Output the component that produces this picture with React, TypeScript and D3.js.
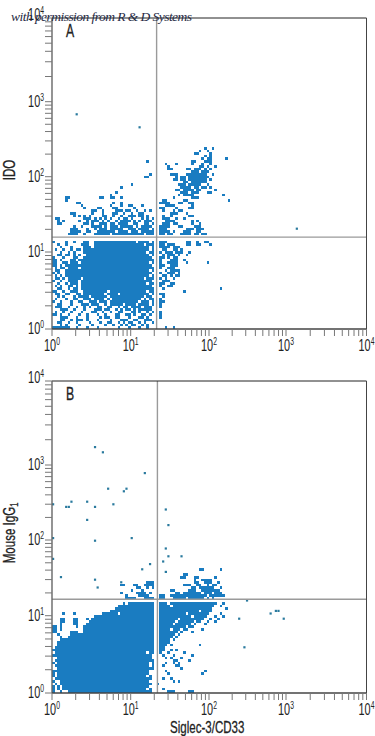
import React from "react";
import * as d3 from "d3";

// Tick labels / decades
const decades = [1, 10, 100, 1000, 10000];
const decadeExponents = ["0", "1", "2", "3", "4"];
const minorMultipliers = [2, 3, 4, 5, 6, 7, 8, 9];

// Histogram bins: 30 bins per decade. Index = row from the bottom, spec = occupied columns.
const rowsA = [
  "0-6 9 13 17 25 29 33 36 43 46",
  "3 5 10 15 20 23 26 28 30-31 34 36",
  "2-3 6 9 14 18 21-22 25 27 29-30 33 35 38",
  "3-4 7 9-11 13 17 22 26-28 31-32 35-37",
  "3-5 9 13 18 20-21 24-25 29 33-34 36 41",
  "0-1 3 6 10 13 17 20 24-25 28-29 31 34-35 37 41",
  "1 4 7 11 15-16 19 22 25-26 30-31 33 36 38 41",
  "3-5 8 12 16-18 20-21 24 26 28-29 31 33-37",
  "1-3 6 9 12 14 17-18 21-22 25 27-28 30-33 35-37 41",
  "2-3 7 11-13 15-17 20 22-26 28-31 33-36 38 41",
  "0 3 7 10-11 14-16 18-20 22-32 34-36 38 41-42",
  "1 5 8-9 12-14 16-19 21 23-33 35 37-38 41",
  "2 4 8 10-13 15-20 22-34 36-37 42",
  "1-2 5-6 9-10 12-19 21-24 26-36 38 41-42",
  "0-1 4 7-9 12-20 22-35 37-38 50",
  "2-3 6 8-9 11-38 42 64",
  "1 3 6-7 9 11-37 41 44-45",
  "2 5 7-9 11-35 37-38 41-42 45-46",
  "0 3 6-9 11-37 42-44",
  "1-2 4 6-10 12-34 36-38 41 43 46",
  "1 3 5-36 38 42-43 45 47-48",
  "0 2 5-37 41 44-46 48",
  "1-2 5-36 38 43 45-48",
  "1 3-4 6-9 11-38 41 44-46",
  "0-1 3 5-37 41-42 45-47",
  "0-1 4-5 7-9 11-36 38 41 44-47 51 59",
  "0-1 3 7-8 10-38 41 45-47 50",
  "0 4 8-9 12-37 41-42 44 46-47",
  "2-3 5-6 8 10 13-36 38 42 44-46 48 51",
  "3 6 8 12-35 37-38 41 43-45 47-49 52",
  "1 4 7 9-10 12-36 38 42-43 46-47 49",
  "3 7 12-14 16-36 38 41-44 46-48",
  "2 5 11-13 16-34 36-38 41-42 44-46 51-52 55-56 60",
  "0 5 8 12-13 16-31 33-36 38 41-43 51-52 55 58-59",
  "",
  "",
  "6-9 12 16-21 23-34 36-38 41-42 44-45 49-52 54-55 57-58",
  "7-10 13-14 17-23 25-28 30-32 34-38 41-44 46 50-52 55-56",
  "7-9 13 16 18-20 22-26 29-31 33-36 38 41-43 51-53 55-57",
  "8 11 15-18 20 22-24 26-30 32 34-36 37 41-44 48-49 54-56",
  "2-3 12-13 15 18-20 22-23 25-28 31-32 35-36 38 42-44 46-47 53 56",
  "2 4 10 13 15-17 19 21 24 26-29 31 33 35-37 43-46 53 55",
  "1-2 12-14 16 18 20 22 25 27-28 30 34 36 38 42-44 47 50",
  "8 10 12 14 19-20 23 26 29-31 33-34 36 42 45 52-53",
  "7-8 15 19 23-24 27 30 33-34 45-47 51",
  "15-16 19 24-26 28-29 32 35 37 42 46 48-49",
  "12 17-18 23-24 31 41-42 47 52-53",
  "11 22 26 29-30 34 43-46 53",
  "9-10 23 26 41-44 48-49 52-53",
  "5 42-43 50-51 67",
  "5-6 18-19 22-23 26 46 53-55",
  "22 48 50-53 65",
  "24 49-51 53-55 59-60",
  "47-48 50-53 55-56 62",
  "26 49-52 54-55 57-58 60",
  "30 48-50 52-56 59",
  "50-51 53-58",
  "46-47 49-50 52-58 60",
  "35-36 47 49-50 52-59",
  "37 45-47 51-58 61",
  "53-55 57-59",
  "44-45 51-52 54-56 58 60",
  "44 56-57 59 62",
  "43 47 53 57 60",
  "36 53-54 58-60",
  "57 59-60 66",
  "58 60",
  "54-55 60",
  "56 59",
  "58 61",
];

const rowsB = [
  "0 3 6-37 44-46 52-53",
  "0 2 4-35 37 42",
  "0 2 4-36",
  "1 3-37 40",
  "0 3-36 46 48",
  "1-37 42 45",
  "0 2-35 37",
  "0 2-36 44 57",
  "0-36 43 58",
  "2-38 49",
  "1-36 38 42 47-48",
  "0 2-36 38 43 46 48",
  "1-38 46-47 52",
  "2-37 43 45 49",
  "0-37 42 46 53",
  "1-35 37-38 41 44 50",
  "0-38 41-42 45 47",
  "1-38 41-42",
  "2-38 41-43 45 56",
  "2-38 41-44",
  "3-38 41-44 46",
  "3 6-38 41-45 47",
  "2 7-38 41-46 48",
  "0-1 7-9 12-38 41-47 49 53",
  "0-1 3 12-38 41-44 46-48 50-51 57",
  "0-1 3 9 12-38 41-50 52-53",
  "3 8-9 13-38 41-45 47-52 54 58",
  "3-4 8-9 14-38 41-46 48-53 55-56 59 62",
  "3-4 8-9 13 15-38 41-47 49-57 60 63",
  "16-38 41-52 54-58 62 65",
  "4 8 19-24 26-38 41-50 52-59 64",
  "22-38 41-55 57-60",
  "24-38 41-60 66",
  "25-38 41-44 46-61 64",
  "27 29-38 41-43 45-62 65",
  "",
  "28-31 35-38 41-42 46-50 52-57 59 61",
  "28 33-36 41-42 45-58 60-65",
  "26 32-35 37 47-48 50-56 58-60 62-64",
  "30 34 45-46 52-54 57-63",
  "32-33 36 38 53-54 56-61 64",
  "26-27 31-32 35-38 50-52 55-56 59 61-62",
  "36-38 54-55 58-60 63",
  "54 57-60",
  "49-50 54-55 62",
  "50-51",
  "43",
  "56-57 64",
];

// Isolated events outside the binned rows: [column, row]
const sparseA = [[9, 82], [33, 77], [93, 38]];
const sparseB = [
  [16, 94], [19, 92], [35, 84], [21, 78], [28, 78], [27, 77], [7, 73], [5, 71], [6, 71], [13, 73],
  [16, 71], [23, 72], [13, 66], [16, 58], [30, 59], [43, 70], [44, 64], [43, 55], [44, 52], [42, 50],
  [49, 52], [37, 49], [34, 47], [43, 46], [3, 44], [16, 43], [17, 40], [26, 42], [0, 59], [0, 51],
  [0, 72], [74, 35], [71, 28], [73, 17], [83, 30], [85, 31], [86, 31], [88, 28],
];

const xTickRange = [52, 130.7, 209, 286, 366.5];
const yTickRangeA = [329, 252, 176.7, 101.7, 18];
const yTickRangeB = [693, 615.7, 540, 465, 381];

const gateX = 22;
const gateY = 15.5;

const BLUE = "#1a7cc1";
const FONT = "'Liberation Sans',sans-serif";
const NARROW = 0.68;

const parseSpec = (spec: string): number[] =>
  spec.split(" ").filter(Boolean).flatMap((p) => {
    const [a, b] = p.split("-").map(Number);
    return b === undefined ? [a] : d3.range(a, b + 1);
  });

const binValue = (i: number) => Math.pow(10, i / 30);

function Power({ x, y, i, anchor }: { x: number; y: number; i: number; anchor: string }) {
  return (
    <text
      transform={`translate(${x},${y}) scale(${NARROW},1)`}
      textAnchor={anchor}
      fontFamily={FONT}
      fontSize={16}
      fill="#222"
    >
      10<tspan fontSize={10} dy={-6}>{decadeExponents[i]}</tspan>
    </text>
  );
}

function Panel({ rows, sparse, yRange, letter, gateXPx, gateYPx }: any) {
  const xCell = d3.scaleLog().domain([1, 10000]).range([52, 366.5]);
  const yCell = d3.scaleLog().domain([1, 10000]).range([yRange[0], yRange[0] - 312]);
  const xTick = d3.scaleLog().domain(decades).range(xTickRange);
  const yTick = d3.scaleLog().domain(decades).range(yRange);
  const top = yRange[4];
  const bottom = yRange[0];
  const minors = decades.slice(0, 4).flatMap((d) => minorMultipliers.map((m) => d * m));
  const cells = (rows as string[]).flatMap((spec, r) => parseSpec(spec).map((c) => [c, r]));
  return (
    <g>
      <g shapeRendering="crispEdges">
        {cells.map(([c, r]) => {
          const x0 = xCell(binValue(c));
          const x1 = xCell(binValue(c + 1));
          const y0 = yCell(binValue(r));
          const y1 = yCell(binValue(r + 1));
          return <rect key={`${c}-${r}`} x={x0} y={y1} width={x1 - x0} height={y0 - y1} fill={BLUE} />;
        })}
      </g>
      {(sparse as number[][]).map(([c, r]) => (
        <rect key={`s${c}-${r}`} x={xCell(binValue(c))} y={yCell(binValue(r + 1))} width={2.2} height={2.2} fill="#2a7a9e" />
      ))}
      <line x1={gateXPx} x2={gateXPx} y1={top} y2={bottom} stroke="#9a9a9a" strokeWidth={1.4} />
      <line x1={52} x2={366.5} y1={gateYPx} y2={gateYPx} stroke="#9a9a9a" strokeWidth={1.4} />
      <line x1={52} x2={366.5} y1={top} y2={top} stroke="#222" strokeWidth={1} />
      <line x1={366.5} x2={366.5} y1={top} y2={bottom} stroke="#444" strokeWidth={1} />
      <line x1={52} x2={52} y1={top} y2={bottom} stroke="#666" strokeWidth={1.4} />
      <line x1={52} x2={366.5} y1={bottom} y2={bottom} stroke="#444" strokeWidth={1.4} />
      {[...decades, ...minors].map((v) => (
        <g key={v}>
          <line x1={xTick(v)} x2={xTick(v)} y1={bottom} y2={bottom + 7} stroke="#777" strokeWidth={1} />
          <line x1={45} x2={52} y1={yTick(v)} y2={yTick(v)} stroke="#777" strokeWidth={1} />
        </g>
      ))}
      {decades.map((v, i) => (
        <g key={`l${v}`}>
          <Power x={xTick(v)} y={bottom + 22} i={i} anchor="middle" />
          <Power x={44} y={yTick(v) + (i === 4 ? 2 : 5)} i={i} anchor="end" />
        </g>
      ))}
      <text transform={`translate(66,${top + 19}) scale(${NARROW},1)`} fontFamily={FONT} fontSize={18} fill="#222" stroke="#222" strokeWidth={0.3}>{letter}</text>
    </g>
  );
}

export default function App() {
  const xGate = d3.scaleLog().domain(decades).range(xTickRange);
  const yGateA = d3.scaleLog().domain(decades).range(yTickRangeA);
  const yGateB = d3.scaleLog().domain(decades).range(yTickRangeB);
  return (
    <svg width={375} height={736} style={{ position: "absolute", left: 0, top: 0, display: "block", background: "#fff" }}>
      <Panel rows={rowsA} sparse={sparseA} yRange={yTickRangeA} letter="A" gateXPx={xGate(gateX) - 0.9} gateYPx={yGateA(gateY) - 0.5} />
      <Panel rows={rowsB} sparse={sparseB} yRange={yTickRangeB} letter="B" gateXPx={xGate(gateX) - 0.1} gateYPx={yGateB(gateY + 1)} />
      <text x={11} y={21} fontFamily="'Liberation Serif',serif" fontStyle="italic" fontSize={13.5} fill="#1f2a44" textLength={181}>
        with permission from R &amp; D Systems
      </text>
      <text transform={`translate(15,170) rotate(-90) scale(${NARROW},1)`} textAnchor="middle" fontFamily={FONT} fontSize={17} fill="#222" stroke="#222" strokeWidth={0.3}>IDO</text>
      <text transform={`translate(15,533) rotate(-90) scale(${NARROW},1)`} textAnchor="middle" fontFamily={FONT} fontSize={17} fill="#222" stroke="#222" strokeWidth={0.3}>
        Mouse IgG<tspan fontSize={11} dy={3}>1</tspan>
      </text>
      <text transform={`translate(170,733) scale(${NARROW},1)`} fontFamily={FONT} fontSize={17} fill="#222" stroke="#222" strokeWidth={0.3}>Siglec-3/CD33</text>
    </svg>
  );
}
